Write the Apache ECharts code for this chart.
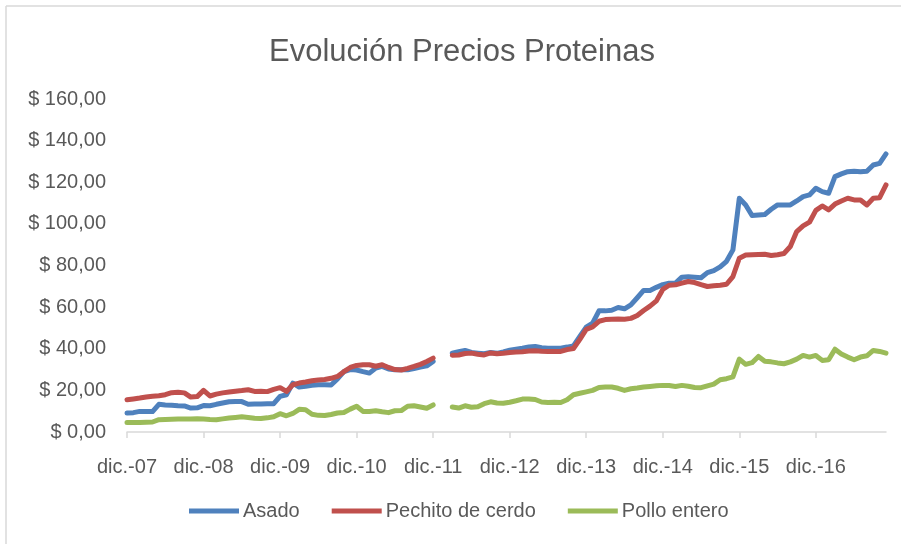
<!DOCTYPE html>
<html>
<head>
<meta charset="utf-8">
<script src="https://cdn.jsdelivr.net/npm/echarts@6/dist/echarts.min.js"></script>
<style>
  html, body { margin: 0; padding: 0; background: #fff; }
  #chart { width: 901px; height: 544px; }
</style>
</head>
<body>
<div id="chart"></div>
<script>
// meses de dic.-07 a nov.-17 (120 puntos)
var meses = ['ene.', 'feb.', 'mar.', 'abr.', 'may.', 'jun.', 'jul.', 'ago.', 'sep.', 'oct.', 'nov.', 'dic.'];
var categorias = ['dic.-07'];
for (var a = 8; a <= 17; a++) {
  for (var m = 0; m < 12; m++) {
    if (a === 17 && m === 11) break;
    categorias.push(meses[m] + '-' + (a < 10 ? '0' + a : a));
  }
}

var asado = [
  9.1, 9.3, 9.9, 9.9, 9.8, 13.3, 13.0, 12.8, 12.6, 12.5, 11.5, 11.6,
  12.7, 12.6, 13.3, 13.9, 14.5, 14.7, 14.6, 13.3, 13.4, 13.5, 13.6, 13.6,
  17.1, 17.9, 23.5, 21.6, 22.0, 22.5, 22.7, 22.7, 22.6, 25.5, 29.0, 30.0,
  29.8, 29.0, 28.3, 30.7, 31.5, 30.3, 29.9, 29.9, 29.9, 30.5, 31.2, 31.8,
  33.9, null, null, 37.9, 38.6, 39.2, 38.2, 37.9, 37.6, 38.2, 37.8, 38.5,
  39.3, 39.8, 40.3, 40.9, 41.1, 40.5, 40.3, 40.3, 40.3, 40.8, 41.4, 46.0,
  50.4, 52.3, 58.2, 58.2, 58.5, 59.8, 59.2, 61.1, 64.5, 68.0, 68.0, 69.5,
  70.8, 71.5, 71.5, 74.4, 74.6, 74.4, 74.1, 76.6, 77.5, 79.3, 82.0, 87.5,
  112.3, 109.1, 104.0, 104.3, 104.5, 107.0, 109.1, 109.1, 109.1, 111.0, 113.1, 113.9,
  117.1, 115.5, 114.7, 122.7, 124.0, 125.1, 125.3, 125.1, 125.3, 128.3, 129.1, 133.6
];
var pechito = [
  15.5, 15.9, 16.3, 16.8, 17.2, 17.4, 17.9, 18.9, 19.1, 18.8, 16.8, 17.0,
  20.0, 17.3, 18.2, 18.8, 19.2, 19.6, 19.9, 20.3, 19.5, 19.6, 19.4, 20.5,
  21.3, 19.5, 22.7, 23.5, 24.0, 24.6, 25.0, 25.2, 25.8, 26.7, 29.0, 31.0,
  32.0, 32.3, 32.3, 31.6, 32.3, 31.0, 30.0, 29.8, 30.6, 31.5, 32.5, 33.9,
  35.5, null, null, 36.9, 37.0, 37.7, 37.9, 37.4, 37.0, 38.0, 37.6, 37.8,
  38.2, 38.4, 38.6, 38.9, 39.0, 38.8, 38.7, 38.7, 38.7, 39.6, 40.1, 44.5,
  49.3, 50.5, 53.2, 54.0, 54.2, 54.3, 54.2, 54.6, 56.0, 58.4, 60.5, 63.0,
  68.5, 70.5, 70.7, 71.5, 72.3, 71.8, 70.8, 69.9, 70.3, 70.5, 71.0, 74.7,
  83.5, 85.0, 85.2, 85.3, 85.4, 84.8, 85.2, 85.8, 89.1, 96.3, 99.0, 100.8,
  106.5, 108.6, 106.7, 109.5, 111.0, 112.3, 111.5, 111.5, 109.1, 112.3, 112.6, 118.7
];
var pollo = [
  4.6, 4.6, 4.6, 4.7, 4.8, 5.9, 6.0, 6.1, 6.2, 6.3, 6.3, 6.4,
  6.2, 6.0, 5.9, 6.3, 6.7, 7.0, 7.3, 7.0, 6.6, 6.5, 6.8, 7.3,
  8.8, 7.8, 8.9, 10.9, 10.7, 8.5, 8.0, 7.9, 8.4, 9.1, 9.4, 11.0,
  12.4, 9.9, 9.8, 10.2, 9.7, 9.3, 10.2, 10.3, 12.4, 12.6, 12.0, 11.4,
  13.0, null, null, 12.0, 11.5, 12.6, 11.9, 12.1, 13.6, 14.5, 13.9, 13.8,
  14.3, 15.0, 15.8, 15.9, 15.6, 14.4, 14.2, 14.3, 14.2, 15.5, 17.9, 18.6,
  19.3, 20.0, 21.4, 21.6, 21.6, 21.0, 20.0, 20.8, 21.1, 21.6, 21.9, 22.2,
  22.4, 22.3, 21.9, 22.4, 22.0, 21.4, 21.3, 22.2, 23.0, 25.1, 25.6, 26.5,
  35.0, 32.5, 33.3, 36.3, 34.0, 33.7, 33.2, 32.8, 33.7, 35.0, 36.8, 36.0,
  36.8, 34.4, 34.7, 39.8, 37.5, 36.0, 34.7, 36.0, 36.6, 39.2, 38.7, 37.9
];

var fuente = 'Liberation Sans, Arial, sans-serif';
var gris = '#595959';

var myChart = echarts.init(document.getElementById('chart'));

function serie(nombre, datos, color) {
  return {
    name: nombre,
    type: 'line',
    data: datos,
    symbol: 'none',
    connectNulls: false,
    lineStyle: { width: 5, color: color, cap: 'round', join: 'round' },
    itemStyle: { color: color }
  };
}

var option = {
  animation: false,
  backgroundColor: '#fff',
  textStyle: { fontFamily: fuente },
  title: {
    text: 'Evolución Precios Proteinas',
    left: 264,
    top: 32,
    textStyle: { fontFamily: fuente, fontSize: 31, fontWeight: 'normal', color: gris }
  },
  legend: {
    bottom: 18,
    left: 184,
    icon: 'rect',
    itemWidth: 50,
    itemHeight: 5,
    itemGap: 32,
    textStyle: { fontFamily: fuente, fontSize: 20, color: gris, padding: [0, 0, 0, -1] },
    data: ['Asado', 'Pechito de cerdo', 'Pollo entero']
  },
  grid: { left: 127, right: 15, top: 99, bottom: 112, containLabel: false },
  xAxis: {
    type: 'category',
    data: categorias,
    boundaryGap: false,
    axisLine: { lineStyle: { color: '#D9D9D9', width: 1.5 } },
    axisTick: { interval: 11, length: 6, lineStyle: { color: '#D9D9D9', width: 1.5 } },
    axisLabel: { interval: 11, margin: 25, fontFamily: fuente, fontSize: 20, color: gris }
  },
  yAxis: {
    type: 'value',
    min: 0,
    max: 160,
    interval: 20,
    axisLine: { show: false },
    axisTick: { show: false },
    splitLine: { show: false },
    axisLabel: {
      margin: 21,
      fontFamily: fuente,
      fontSize: 20,
      color: gris,
      formatter: function (v) { return '$ ' + v.toFixed(2).replace('.', ','); }
    }
  },
  graphic: [
    { type: 'line', shape: { x1: 6, y1: 6, x2: 901, y2: 6 }, style: { stroke: '#D9D9D9', lineWidth: 1.5 } },
    { type: 'line', shape: { x1: 6, y1: 6, x2: 6, y2: 544 }, style: { stroke: '#D9D9D9', lineWidth: 1.5 } }
  ],
  series: [
    serie('Asado', asado, '#4F81BD'),
    serie('Pechito de cerdo', pechito, '#C0504D'),
    serie('Pollo entero', pollo, '#9BBB59')
  ]
};
myChart.setOption(option);
</script>
</body>
</html>
